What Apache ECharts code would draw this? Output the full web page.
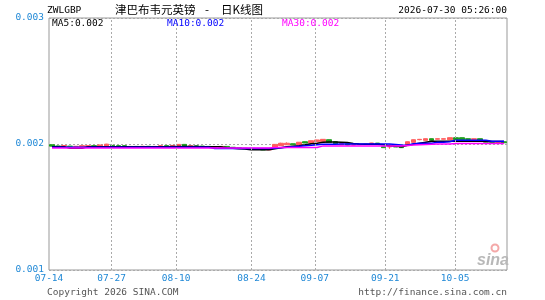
<!DOCTYPE html>
<html><head><meta charset="utf-8">
<script src="https://cdn.jsdelivr.net/npm/echarts@6/dist/echarts.min.js"></script>
<style>html,body{margin:0;padding:0;background:#fff}#c{width:545px;height:300px}</style>
</head><body><div id="c"></div>
<script>
// [open, close, low, high]
const candles = [
[0.001994,0.001983,0.001981,0.001996],[0.001984,0.001982,0.001981,0.001986],[0.001984,0.001988,0.001983,0.001989],
[0.001983,0.001981,0.001979,0.001984],[0.001980,0.001982,0.001979,0.001984],[0.001976,0.001987,0.001975,0.001988],
[0.001981,0.001987,0.001980,0.001988],[0.001987,0.001973,0.001972,0.001988],[0.001976,0.001992,0.001975,0.001993],
[0.001981,0.001999,0.001980,0.002001],[0.001989,0.001979,0.001978,0.001990],[0.001987,0.001979,0.001978,0.001988],
[0.001987,0.001980,0.001979,0.001988],[0.001979,0.001981,0.001978,0.001982],[0.001981,0.001979,0.001978,0.001982],
[0.001980,0.001982,0.001979,0.001983],[0.001982,0.001980,0.001979,0.001983],[0.001979,0.001981,0.001978,0.001982],
[0.001979,0.001987,0.001978,0.001988],[0.001987,0.001979,0.001978,0.001988],[0.001976,0.001989,0.001975,0.001990],
[0.001976,0.001997,0.001975,0.001998],[0.001997,0.001981,0.001980,0.001998],[0.001983,0.001986,0.001982,0.001987],
[0.001985,0.001983,0.001982,0.001986],[0.001983,0.001981,0.001980,0.001984],[0.001981,0.001973,0.001972,0.001982],
[0.001973,0.001975,0.001972,0.001976],[0.001973,0.001981,0.001972,0.001982],[0.001981,0.001975,0.001974,0.001982],
[0.001974,0.001970,0.001969,0.001975],[0.001970,0.001966,0.001965,0.001971],[0.001966,0.001963,0.001962,0.001967],
[0.001963,0.001960,0.001959,0.001964],[0.001959,0.001956,0.001955,0.001960],[0.001956,0.001953,0.001952,0.001957],
[0.001953,0.001957,0.001952,0.001958],[0.001971,0.001997,0.001970,0.001998],[0.001987,0.002006,0.001986,0.002010],
[0.001994,0.002006,0.001993,0.002013],[0.002002,0.001994,0.001993,0.002003],[0.001992,0.002014,0.001991,0.002015],
[0.002018,0.002008,0.002007,0.002019],[0.002008,0.002026,0.002007,0.002027],[0.002018,0.002032,0.002017,0.002033],
[0.002018,0.002037,0.002017,0.002038],[0.002034,0.002013,0.002012,0.002035],[0.002018,0.002002,0.002001,0.002019],
[0.001994,0.002002,0.001993,0.002003],[0.002002,0.001992,0.001990,0.002004],[0.001992,0.001995,0.001991,0.001996],
[0.001995,0.001997,0.001994,0.001998],[0.001998,0.001996,0.001995,0.001999],[0.002004,0.002008,0.002003,0.002009],
[0.002007,0.001996,0.001995,0.002008],[0.001979,0.001971,0.001970,0.001980],[0.001977,0.001981,0.001962,0.001982],
[0.001979,0.001977,0.001976,0.001980],[0.001979,0.001971,0.001970,0.001980],[0.001987,0.002018,0.001986,0.002019],
[0.002013,0.002034,0.002012,0.002035],[0.002034,0.002037,0.002030,0.002040],[0.002029,0.002042,0.002028,0.002043],
[0.002042,0.002029,0.002028,0.002043],[0.002038,0.002042,0.002037,0.002043],[0.002038,0.002042,0.002037,0.002043],
[0.002034,0.002050,0.002033,0.002051],[0.002050,0.002034,0.002033,0.002052],[0.002050,0.002034,0.002033,0.002051],
[0.002042,0.002036,0.002035,0.002043],[0.002036,0.002042,0.002035,0.002043],[0.002042,0.002030,0.002029,0.002043],
[0.002026,0.002014,0.002013,0.002027],[0.002018,0.002013,0.002012,0.002019],[0.002013,0.002018,0.002012,0.002019],
[0.002018,0.002010,0.002009,0.002019]
];
const ma5 = [
0.001979,0.001979,0.001979,0.001967,0.001967,0.001967,
0.001979,0.001979,0.001979,0.001979,0.001979,0.001979,0.001979,0.001979,0.001979,0.001979,0.001979,0.001979,0.001979,0.001979,
0.001981,0.001981,0.001981,0.001981,0.001981,0.001979,0.001979,0.001979,0.001979,
0.001971,0.001967,0.001963,0.001961,0.001955,0.001955,0.001955,0.001955,
0.001963,0.001971,0.001979,0.001983,0.001987,0.001994,0.002002,0.002006,
0.002014,0.002016,0.002016,0.002014,0.002012,0.002004,0.002000,0.001998,0.001998,0.001998,
0.001994,0.001987,0.001983,0.001979,0.001990,0.001998,0.002006,0.002014,
0.002022,0.002022,0.002022,0.002022,0.002022,0.002022,0.002022,0.002022,0.002022,0.002022,
0.002020,0.002020,0.002020
];
const ma10 = [
0.001975,0.001975,0.001975,0.001975,0.001975,0.001975,0.001975,0.001975,0.001975,0.001975,
0.001975,0.001975,0.001975,0.001975,0.001975,0.001975,0.001975,0.001975,0.001975,0.001975,
0.001975,0.001975,0.001975,0.001975,0.001975,0.001975,0.001975,
0.001965,0.001965,0.001965,0.001965,0.001965,0.001965,0.001965,0.001965,0.001965,0.001965,
0.001967,0.001971,0.001975,0.001979,0.001983,0.001987,0.001990,0.001994,
0.001998,0.001998,0.001998,
0.002000,0.002000,0.002000,0.002000,0.002000,0.002000,0.002000,0.002000,0.002000,
0.001996,0.001992,0.001990,0.002002,0.002006,0.002006,0.002006,0.002014,0.002014,0.002018,
0.002030,0.002030,0.002030,0.002030,0.002030,0.002030,
0.002022,0.002022,0.002022
];
const ma30 = [
0.001968,0.001968,0.001968,0.001968,0.001968,0.001968,0.001968,0.001968,0.001968,0.001968,
0.001968,0.001968,0.001968,0.001968,0.001968,0.001968,0.001968,0.001968,0.001968,0.001968,
0.001968,0.001968,0.001968,0.001968,0.001968,0.001968,0.001968,0.001968,0.001968,0.001968,
0.001968,0.001968,0.001968,0.001968,0.001968,0.001968,0.001968,
0.001973,0.001973,0.001973,0.001973,0.001973,0.001973,0.001973,0.001973,
0.001985,0.001985,0.001985,0.001985,0.001985,0.001985,0.001985,0.001985,0.001985,0.001985,
0.001985,0.001985,0.001985,0.001985,
0.001989,0.001992,0.001994,0.001996,0.001998,0.002000,0.002000,0.002000,
0.002003,0.002003,0.002003,0.002003,0.002003,0.002003,0.002003,0.002003,0.002003
];
const yMin = 0.001, yMax = 0.003, yStep = 0.001;
const tickLabels = ['07-14','07-27','08-10','08-24','09-07','09-21','10-05'];
const tickIndex = [-0.5, 9.9, 20.6, 33.1, 43.6, 55.3, 66.9]; // positions in bar-index units
const barIndex = candles.map((_, i) => String(i));

const mono = 'DejaVu Sans Mono';
const cjk = 'Noto Sans CJK SC';
const blue = '#1f88d6';
const fs = 9.5;
const last = a => a[a.length - 1].toFixed(3);
const monoStyle = c => ({fontFamily: mono, fontSize: fs, fontWeight: 'normal', color: c});
const cjkStyle = {fontFamily: cjk, fontSize: 11.5, fontWeight: 'normal', color: '#000'};

const chart = echarts.init(document.getElementById('c'));
chart.setOption({
  animation: false,
  backgroundColor: '#fff',
  grid: {left: 49, right: 38, top: 18, bottom: 30, show: true, borderColor: '#999', borderWidth: 1},
  title: [
    {text: 'ZWLGBP', left: 47, top: 6, padding: 0, textStyle: monoStyle('#000')},
    {text: '津巴布韦元英镑', left: 115, top: 4, padding: 0, textStyle: cjkStyle},
    {text: '-', left: 205, top: 4, padding: 0, textStyle: cjkStyle},
    {text: '日K线图', left: 221, top: 4, padding: 0, textStyle: cjkStyle},
    {text: '2026-07-30 05:26:00', right: 38, top: 6, padding: 0, textStyle: monoStyle('#000')},
    {text: 'MA5:' + last(ma5), left: 52, top: 19, padding: 0, textStyle: monoStyle('#000')},
    {text: 'MA10:' + last(ma10), left: 167, top: 19, padding: 0, textStyle: monoStyle('#0000ff')},
    {text: 'MA30:' + last(ma30), left: 282, top: 19, padding: 0, textStyle: monoStyle('#ff00ff')},
    {text: 'Copyright 2026 SINA.COM', left: 47, top: 288, padding: 0, textStyle: monoStyle('#555')},
    {text: 'http://finance.sina.com.cn', right: 38, top: 288, padding: 0, textStyle: monoStyle('#555')}
  ],
  xAxis: [
    {type: 'category', data: barIndex, boundaryGap: true, show: false},
    {type: 'value', min: -0.5, max: barIndex.length - 0.5, position: 'bottom',
     axisLine: {show: false}, axisTick: {show: false}, splitLine: {show: false},
     axisLabel: {customValues: tickIndex, formatter: v => tickLabels[tickIndex.indexOf(v)] || '',
       color: blue, fontFamily: mono, fontSize: fs, margin: 4, showMinLabel: true, showMaxLabel: true}}
  ],
  yAxis: {type: 'value', min: yMin, max: yMax, interval: yStep,
    axisLine: {show: false}, axisTick: {show: false},
    axisLabel: {formatter: v => v.toFixed(3), color: blue, fontFamily: mono, fontSize: fs, margin: 5},
    splitLine: {show: true, lineStyle: {color: '#aaa', type: [2, 2], width: 1}}},
  graphic: [
    {type: 'text', left: 477, top: 253, style: {text: 'sina', font: 'italic bold 16px "Liberation Sans"', fill: '#b8b8b8'}},
    {type: 'circle', shape: {cx: 495, cy: 248, r: 3.5}, style: {fill: 'none', stroke: '#f4a8a8', lineWidth: 2}}
  ],
  series: [
    {type: 'candlestick', xAxisIndex: 0, data: candles, barWidth: 5,
     itemStyle: {color: '#ff5c5c', color0: '#1e9e1e', borderColor: '#ff5c5c', borderColor0: '#1e9e1e', borderWidth: 1}},
    {type: 'line', name: 'MA5', xAxisIndex: 0, data: ma5, showSymbol: false, lineStyle: {color: '#000', width: 1.5}, itemStyle: {color: '#000'}},
    {type: 'line', name: 'MA10', xAxisIndex: 0, data: ma10, showSymbol: false, lineStyle: {color: '#0000ff', width: 1.5}, itemStyle: {color: '#0000ff'}},
    {type: 'line', name: 'MA30', xAxisIndex: 0, data: ma30, showSymbol: false, lineStyle: {color: '#ff00ff', width: 1.5}, itemStyle: {color: '#ff00ff'}},
    {type: 'line', xAxisIndex: 1, data: [], silent: true,
     markLine: {symbol: ['none', 'none'], silent: true, label: {show: false}, animation: false,
       lineStyle: {color: '#aaa', type: [2, 2], width: 1},
       data: tickIndex.slice(1).map(v => ({xAxis: v}))}}
  ]
});
</script></body></html>
